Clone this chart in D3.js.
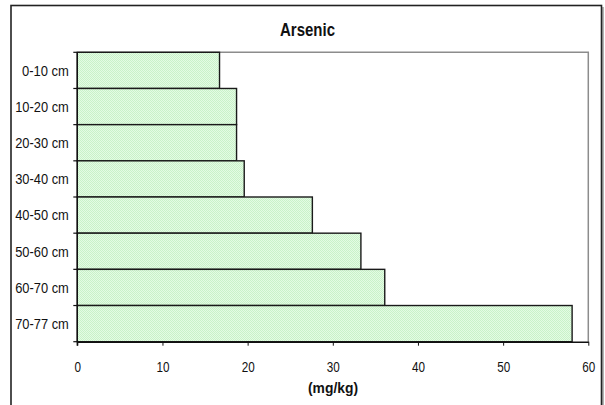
<!DOCTYPE html>
<html>
<head>
<meta charset="utf-8">
<script src="https://cdn.jsdelivr.net/npm/d3@7"></script>
<style>
  html, body { margin: 0; padding: 0; background: #fff; }
  svg { display: block; }
</style>
</head>
<body>
<svg id="chart" width="605" height="405"></svg>
<script>
// Arsenic concentration by soil depth
const depths = ["0-10 cm", "10-20 cm", "20-30 cm", "30-40 cm", "40-50 cm", "50-60 cm", "60-70 cm", "70-77 cm"];
const arsenic = [16.7, 18.7, 18.7, 19.6, 27.6, 33.3, 36.1, 58.1];
const xTicks = [0, 10, 20, 30, 40, 50, 60];
const chartTitle = "Arsenic";
const xTitle = "(mg/kg)";

const svg = d3.select("#chart");
const font = "'Liberation Sans', Arial, sans-serif";

// dotted light-green fill
const defs = svg.append("defs");
const pat = defs.append("pattern")
  .attr("id", "greenDots")
  .attr("patternUnits", "userSpaceOnUse")
  .attr("width", 2).attr("height", 2);
pat.append("rect").attr("width", 2).attr("height", 2).attr("fill", "#e4fbe4");
pat.append("rect").attr("width", 1).attr("height", 1).attr("fill", "#c9f2c9");
pat.append("rect").attr("x", 1).attr("y", 1).attr("width", 1).attr("height", 1).attr("fill", "#c9f2c9");

// chart frame with a soft shadow on the right
svg.append("line").attr("x1", 603).attr("x2", 603).attr("y1", 7).attr("y2", 405)
  .attr("stroke", "#9a9a9a").attr("stroke-width", 1.5);
svg.append("rect")
  .attr("x", 11).attr("y", 5.5).attr("width", 590.5).attr("height", 410)
  .attr("fill", "#fff").attr("stroke", "#222").attr("stroke-width", 1.6);

const plot = { left: 77.3, right: 588.3, top: 52.3, bottom: 341.7 };

const x = d3.scaleLinear().domain([0, 60]).range([plot.left, plot.right]);
const y = d3.scaleBand().domain(depths).range([plot.top, plot.bottom]).padding(0);

// plot area outline (top and right in grey)
svg.append("path")
  .attr("d", `M${plot.left},${plot.top}H${plot.right}V${plot.bottom}`)
  .attr("fill", "none").attr("stroke", "#8c8c8c").attr("stroke-width", 1.5);

// bars
svg.append("g").selectAll("rect")
  .data(depths.map((d, i) => ({ depth: d, value: arsenic[i] })))
  .join("rect")
  .attr("x", x(0))
  .attr("y", d => y(d.depth))
  .attr("width", d => x(d.value) - x(0))
  .attr("height", y.bandwidth())
  .attr("fill", "url(#greenDots)")
  .attr("stroke", "#1a1a1a")
  .attr("stroke-width", 1.4);

// x axis
const xAxis = svg.append("g")
  .attr("transform", `translate(0,${plot.bottom})`)
  .call(d3.axisBottom(x).tickValues(xTicks).tickSize(4).tickPadding(16).tickSizeOuter(0));
xAxis.select(".domain").attr("stroke", "#111").attr("stroke-width", 1.4);
xAxis.selectAll(".tick line").attr("stroke", "#111");
xAxis.selectAll("text")
  .attr("font-family", font).attr("font-size", 15).attr("fill", "#111")
  .attr("textLength", d => String(d).length * 6.5).attr("lengthAdjust", "spacingAndGlyphs");

// y axis: ticks on category boundaries, labels centred on each band
const yAxis = svg.append("g").attr("transform", `translate(${plot.left},0)`);
yAxis.append("line").attr("x1", 0).attr("x2", 0).attr("y1", plot.top).attr("y2", plot.bottom + 4)
  .attr("stroke", "#111").attr("stroke-width", 1.4);
const bounds = depths.map(d => y(d)).concat([plot.bottom]);
yAxis.selectAll(".btick").data(bounds).join("line")
  .attr("x1", -4).attr("x2", 0).attr("y1", d => d).attr("y2", d => d)
  .attr("stroke", "#111").attr("stroke-width", 1.2);
yAxis.selectAll(".ylab").data(depths).join("text")
  .attr("x", -8.5)
  .attr("y", d => y(d) + y.bandwidth() / 2)
  .attr("dy", "0.36em")
  .attr("text-anchor", "end")
  .attr("font-family", font).attr("font-size", 15).attr("fill", "#111")
  .attr("textLength", d => d.length * 6.7).attr("lengthAdjust", "spacingAndGlyphs")
  .text(d => d);

// titles
svg.append("text")
  .attr("x", 307.5).attr("y", 36)
  .attr("text-anchor", "middle")
  .attr("font-family", font).attr("font-size", 17.5).attr("font-weight", "bold").attr("fill", "#111")
  .attr("textLength", 55).attr("lengthAdjust", "spacingAndGlyphs")
  .text(chartTitle);
svg.append("text")
  .attr("x", 333).attr("y", 393)
  .attr("text-anchor", "middle")
  .attr("font-family", font).attr("font-size", 15).attr("font-weight", "bold").attr("fill", "#111")
  .attr("textLength", 50).attr("lengthAdjust", "spacingAndGlyphs")
  .text(xTitle);
</script>
</body>
</html>
